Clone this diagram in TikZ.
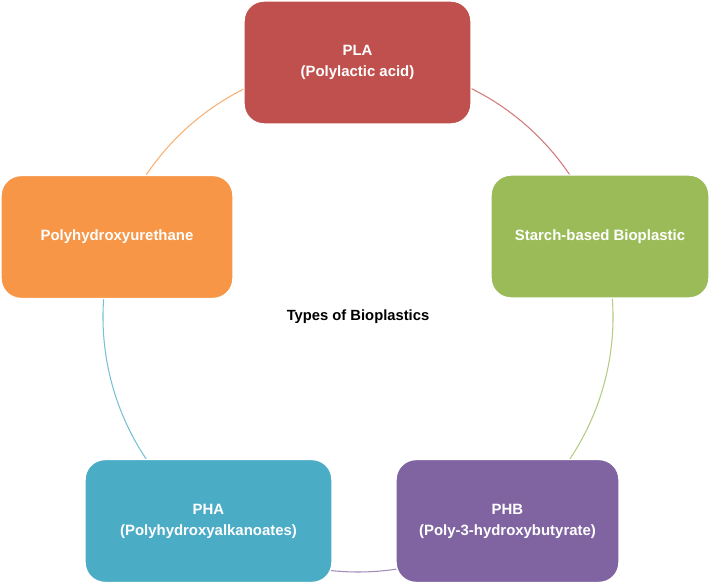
\documentclass[tikz,border=0pt]{standalone}
\usepackage{fontspec}
\setmainfont{Liberation Sans}
\usepackage{tikz}
\usetikzlibrary{positioning}
\definecolor{cpla}{HTML}{C0504D}
\definecolor{cstarch}{HTML}{9BBB59}
\definecolor{cphb}{HTML}{8064A2}
\definecolor{cpha}{HTML}{4BACC6}
\definecolor{cphu}{HTML}{F79646}
\tikzset{
  typebox/.style={draw=white, line width=0.8pt, rounded corners=0.4cm,
    minimum width=4.55cm, minimum height=2.46cm, align=center,
    text=white, font=\fontsize{8.5}{12}\selectfont\bfseries},
  ring/.style={line width=0.6pt}
}

\begin{document}
\begin{tikzpicture}[x=0.02cm,y=0.02cm]
\useasboundingbox[fill=white] (0,0) rectangle (709,585);
\def\R{255}
\node (ctr) at (358,268) {\fontsize{8.4}{10}\selectfont\bfseries Types of Bioplastics};
% ring between the boxes
\foreach \src/\a in {cpla/90, cstarch/18, cphb/-54, cpha/-126, cphu/-198}{
  \draw[ring, \src!75] (ctr) ++(\a:\R) arc[start angle=\a, end angle=\a-72, radius=\R];
}
\node[typebox, fill=cpla, minimum width=4.54cm] (pla) at (357.5,522.5) {PLA\\(Polylactic acid)};
\node[typebox, fill=cstarch, minimum width=4.36cm] (starch) at (600,348.5) {Starch-based Bioplastic};
\node[typebox, fill=cphb, minimum width=4.46cm] (phb) at (507.5,64) {PHB\\(Poly-3-hydroxybutyrate)};
\node[typebox, fill=cpha, minimum width=4.94cm] (pha) at (208.5,64) {PHA\\(Polyhydroxyalkanoates)};
\node[typebox, fill=cphu, minimum width=4.64cm] (phu) at (117,348) {Polyhydroxyurethane};
\end{tikzpicture}
\end{document}
